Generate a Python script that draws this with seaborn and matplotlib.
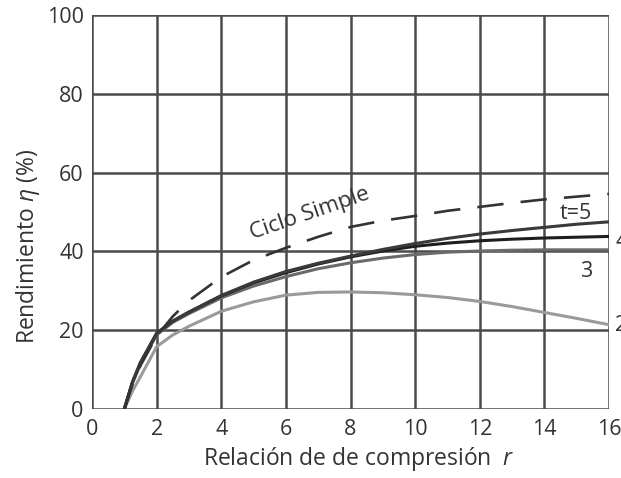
import matplotlib
matplotlib.use("Agg")
import matplotlib.pyplot as plt
import seaborn as sns
import pandas as pd

# ---- data ----
r = [1, 1.25, 1.5, 2, 2.5, 3, 4, 5, 6, 7, 8, 9, 10, 11, 12, 13, 14, 15, 16]
ciclo_simple = [0, 6.2, 11, 18.5, 23.5, 27.5, 33.5, 37.8, 40.9, 43.7, 46.2, 47.8, 49.0, 50.3, 51.3, 52.3, 53.2, 53.9, 54.6]
t5 = [0, 6.8, 11.8, 19.2, 22.3, 24.6, 28.8, 32.2, 34.9, 37.0, 38.8, 40.5, 42.0, 43.3, 44.4, 45.3, 46.1, 46.9, 47.5]
t4 = [0, 6.8, 11.8, 19.2, 22.3, 24.6, 28.7, 32.0, 34.6, 36.8, 38.6, 40.1, 41.3, 42.1, 42.7, 43.1, 43.4, 43.6, 43.8]
t3 = [0, 6.5, 11.4, 18.8, 22.0, 24.2, 28.2, 31.2, 33.6, 35.6, 37.1, 38.3, 39.2, 39.8, 40.1, 40.3, 40.4, 40.4, 40.4]
t2 = [0, 4.5, 8.2, 15.8, 18.8, 21.0, 24.8, 27.2, 28.9, 29.6, 29.7, 29.5, 29.0, 28.3, 27.3, 26.0, 24.5, 23.0, 21.4]

x_ticks = [0, 2, 4, 6, 8, 10, 12, 14, 16]
y_ticks = [0, 20, 40, 60, 80, 100]

sns.set_theme(style="white")
plt.rcParams["font.family"] = ["Open Sans", "DejaVu Sans"]
plt.rcParams["mathtext.fontset"] = "custom"
plt.rcParams["mathtext.rm"] = "Open Sans"
plt.rcParams["mathtext.it"] = "Open Sans:italic"

txt_c = "#333333"
fig = plt.figure(figsize=(6.21, 4.78), dpi=100)
ax = fig.add_axes([92 / 621, 1 - 409 / 478, (609 - 92) / 621, (409 - 15) / 478])

grid_c = "#4a4a4a"
for xv in x_ticks:
    ax.axvline(xv, color=grid_c, lw=1.8, zorder=1)
for yv in y_ticks:
    ax.axhline(yv, color=grid_c, lw=1.8, zorder=1)

df = pd.DataFrame({"r": r, "simple": ciclo_simple, "t5": t5, "t4": t4, "t3": t3, "t2": t2})

sns.lineplot(data=df, x="r", y="t2", ax=ax, color="#9a9a9a", lw=2.2, zorder=3)
sns.lineplot(data=df, x="r", y="t3", ax=ax, color="#6a6a6a", lw=2.2, zorder=3)
sns.lineplot(data=df, x="r", y="t4", ax=ax, color="#1e1e1e", lw=2.2, zorder=4)
sns.lineplot(data=df, x="r", y="t5", ax=ax, color="#3a3a3a", lw=2.2, zorder=4)
sns.lineplot(data=df, x="r", y="simple", ax=ax, color="#333333", lw=1.9, zorder=5)
ax.lines[-1].set_dashes([10, 6.5])

ax.set_xlim(0, 16)
ax.set_ylim(0, 100)
ax.set_xticks(x_ticks)
ax.set_yticks(y_ticks)
ax.tick_params(axis="both", length=0, labelsize=15.5, colors=txt_c)
ax.tick_params(axis="x", pad=7)
ax.tick_params(axis="y", pad=6)
for s in ax.spines.values():
    s.set_visible(False)

ax.set_xlabel("")
ax.set_ylabel("")
fig.text(359 / 621, 1 - 459 / 478, "Relación de de compresión  $r$", ha="center", va="center",
         fontsize=16.5, color=txt_c)
fig.text(28 / 621, 1 - 246 / 478, r"Rendimiento $\eta$ (%)", ha="center", va="center",
         rotation=90, fontsize=16.5, color=txt_c)

ax.text(6.73, 49.6, "Ciclo Simple", rotation=19, ha="center", va="center", fontsize=16, color=txt_c)
ax.text(14.98, 49.5, "t=5", ha="center", va="center", fontsize=15.5, color=txt_c)
ax.text(15.3, 34.8, "3", ha="center", va="center", fontsize=15.5, color=txt_c)
ax.text(16.2, 42.5, "4", ha="left", va="center", fontsize=15.5, color=txt_c, clip_on=False)
ax.text(16.2, 21.3, "2", ha="left", va="center", fontsize=15.5, color=txt_c, clip_on=False)

fig.savefig("out.png", dpi=100)
